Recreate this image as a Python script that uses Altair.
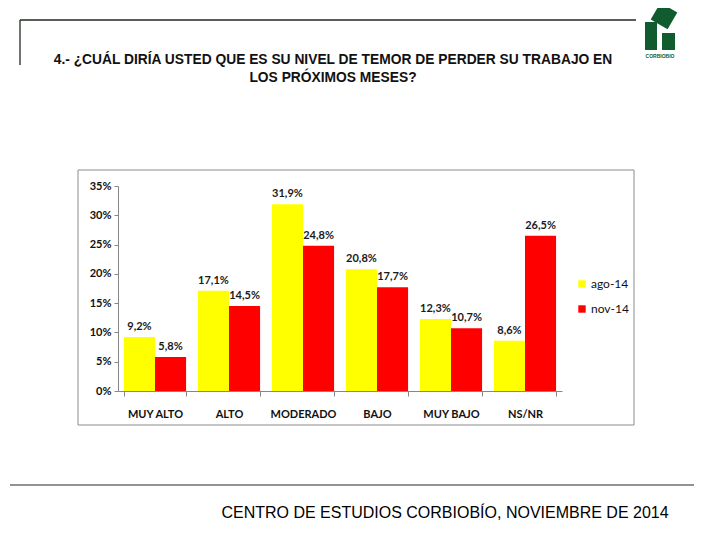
import altair as alt
import pandas as pd

categories = ["MUY ALTO", "ALTO", "MODERADO", "BAJO", "MUY BAJO", "NS/NR"]
series = ["ago-14", "nov-14"]
ago_14 = [9.2, 17.1, 31.9, 20.8, 12.3, 8.6]
nov_14 = [5.8, 14.5, 24.8, 17.7, 10.7, 26.5]
y_ticks = [0, 5, 10, 15, 20, 25, 30, 35]

title_lines = [
    "4.- ¿CUÁL DIRÍA USTED QUE ES SU NIVEL DE TEMOR DE PERDER SU TRABAJO EN",
    "LOS PRÓXIMOS MESES?",
]
footer = "CENTRO DE ESTUDIOS CORBIOBÍO, NOVIEMBRE DE 2014"

rows = []
for s, vals in zip(series, [ago_14, nov_14]):
    for c, v in zip(categories, vals):
        rows.append({"cat": c, "serie": s, "val": v,
                     "label": f"{v:.1f}%".replace(".", ",")})
df = pd.DataFrame(rows)

W, H = 444, 205
base = alt.Chart(df)

x_enc = alt.X("cat:N", sort=categories, title=None,
              scale=alt.Scale(paddingInner=0.16, paddingOuter=0.08),
              axis=alt.Axis(labelAngle=0, labelFont="Lato", labelFontWeight="bold",
                            labelFontSize=11, labelColor="#111", labelPadding=12,
                            tickBand="extent", tickSize=5, tickColor="#868686",
                            domainColor="#868686"))
y_enc = alt.Y("val:Q", title=None,
              scale=alt.Scale(domain=[0, 35], nice=False),
              axis=alt.Axis(values=y_ticks, tickCount=8, labelOverlap=False,
                            labelExpr="datum.value + '%'",
                            grid=False, labelFont="Lato", labelFontWeight="bold",
                            labelFontSize=11, labelColor="#111", tickSize=4,
                            tickColor="#868686", domainColor="#868686",
                            labelPadding=3))
color_enc = alt.Color("serie:N", scale=alt.Scale(domain=series, range=["#FFFF00", "#FF0000"]),
                      legend=alt.Legend(title=None, orient="none", legendX=458, legendY=92,
                                        symbolType="square", symbolSize=55,
                                        symbolStrokeWidth=0, labelFont="Lato",
                                        labelFontSize=12, labelColor="#111",
                                        rowPadding=13, labelOffset=3))

bars = base.mark_bar().encode(
    x=x_enc, y=y_enc, xOffset=alt.XOffset("serie:N", sort=series), color=color_enc
)
labels = base.mark_text(dy=-10, font="Lato", fontSize=11, fontWeight="bold", color="#1a1a1a").encode(
    x=alt.X("cat:N", sort=categories),
    xOffset=alt.XOffset("serie:N", sort=series),
    y="val:Q", text="label:N"
)

one = pd.DataFrame({"a": [0]})
dec = alt.Chart(one)

box = dec.mark_rect(fill="transparent", stroke="#8c8c8c", strokeWidth=1).encode(
    x=alt.value(-40), x2=alt.value(516), y=alt.value(-16), y2=alt.value(239))
top_h = dec.mark_rule(color="#1f2a1f", strokeWidth=1.3).encode(
    x=alt.value(-98), x2=alt.value(518), y=alt.value(-166))
top_v = dec.mark_rule(color="#1f2a1f", strokeWidth=1.3).encode(
    x=alt.value(-98), y=alt.value(-166), y2=alt.value(-121))
bot_h = dec.mark_rule(color="#1f2a1f", strokeWidth=1).encode(
    x=alt.value(-108), x2=alt.value(576), y=alt.value(299))

t1 = dec.mark_text(text=title_lines[0], font="Liberation Sans", fontSize=13.8, fontWeight="bold",
                   color="#111", align="center", baseline="alphabetic").encode(
    x=alt.value(215), y=alt.value(-122))
t2 = dec.mark_text(text=title_lines[1], font="Liberation Sans", fontSize=13.8, fontWeight="bold",
                   color="#111", align="center", baseline="alphabetic").encode(
    x=alt.value(215), y=alt.value(-104))
foot = dec.mark_text(text=footer, font="Liberation Sans", fontSize=16, color="#000",
                     align="center", baseline="alphabetic").encode(
    x=alt.value(327), y=alt.value(332))

logo_green = "#115c2e"
logo1 = dec.mark_rect(color=logo_green).encode(
    x=alt.value(527), x2=alt.value(539), y=alt.value(-164), y2=alt.value(-136))
logo2 = dec.mark_rect(color=logo_green).encode(
    x=alt.value(544), x2=alt.value(557), y=alt.value(-153), y2=alt.value(-136))
logo3 = dec.mark_point(shape="square", filled=True, color=logo_green, size=380, angle=30,
                       opacity=1).encode(x=alt.value(546), y=alt.value(-170))
logo_t = dec.mark_text(text="CORBIOBIO", font="Liberation Sans", fontSize=5, fontWeight="bold",
                       color=logo_green, align="center").encode(
    x=alt.value(542), y=alt.value(-130))

chart = alt.layer(
    box, top_h, top_v, bot_h, t1, t2, foot, logo1, logo2, logo3, logo_t, bars, labels
).properties(
    width=W, height=H,
    autosize=alt.AutoSizeParams(type="none"),
    padding={"left": 110, "top": 178, "right": 150, "bottom": 141},
    background="white",
).configure_view(stroke="transparent")

chart.save("out.html", embed_options={"renderer": "svg", "actions": False})
